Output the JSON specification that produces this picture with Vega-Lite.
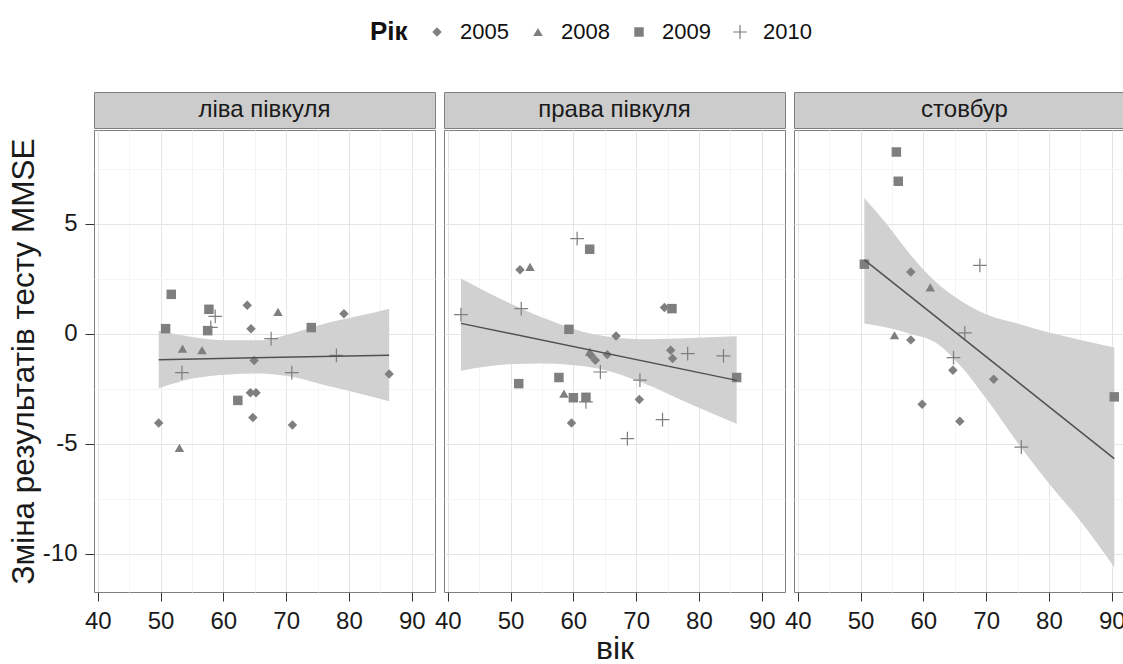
{
  "$schema": "https://vega.github.io/schema/vega-lite/v6.json",
  "padding": {"left": 7, "top": 21, "right": 0, "bottom": 0},
  "background": "white",
  "config": {"font": "Liberation Sans"},
  "datasets": {
    "strips": [{"panel": "ліва півкуля"}, {"panel": "права півкуля"}, {"panel": "стовбур"}],
    "pts": [
      {"panel": "ліва півкуля", "year": "2009", "age": 51.7, "change": 1.8},
      {"panel": "ліва півкуля", "year": "2009", "age": 50.8, "change": 0.24},
      {"panel": "ліва півкуля", "year": "2009", "age": 57.7, "change": 1.12},
      {"panel": "ліва півкуля", "year": "2009", "age": 57.5, "change": 0.15},
      {"panel": "ліва півкуля", "year": "2009", "age": 62.3, "change": -3.02},
      {"panel": "ліва півкуля", "year": "2009", "age": 74.0, "change": 0.29},
      {"panel": "ліва півкуля", "year": "2008", "age": 53.5, "change": -0.67},
      {"panel": "ліва півкуля", "year": "2008", "age": 56.6, "change": -0.74},
      {"panel": "ліва півкуля", "year": "2008", "age": 68.7, "change": 1.0},
      {"panel": "ліва півкуля", "year": "2008", "age": 53.0, "change": -5.18},
      {"panel": "ліва півкуля", "year": "2005", "age": 63.8, "change": 1.3},
      {"panel": "ліва півкуля", "year": "2005", "age": 64.4, "change": 0.24},
      {"panel": "ліва півкуля", "year": "2005", "age": 64.9, "change": -1.21},
      {"panel": "ліва півкуля", "year": "2005", "age": 64.3, "change": -2.67},
      {"panel": "ліва півкуля", "year": "2005", "age": 65.2, "change": -2.67},
      {"panel": "ліва півкуля", "year": "2005", "age": 64.7, "change": -3.8},
      {"panel": "ліва півкуля", "year": "2005", "age": 49.7, "change": -4.05},
      {"panel": "ліва півкуля", "year": "2005", "age": 71.0, "change": -4.14},
      {"panel": "ліва півкуля", "year": "2005", "age": 79.2, "change": 0.92},
      {"panel": "ліва півкуля", "year": "2005", "age": 86.4, "change": -1.82},
      {"panel": "ліва півкуля", "year": "2010", "age": 53.4, "change": -1.76},
      {"panel": "ліва півкуля", "year": "2010", "age": 67.6, "change": -0.21},
      {"panel": "ліва півкуля", "year": "2010", "age": 70.9, "change": -1.76},
      {"panel": "ліва півкуля", "year": "2010", "age": 78.0, "change": -0.97},
      {"panel": "ліва півкуля", "year": "2010", "age": 58.7, "change": 0.8},
      {"panel": "ліва півкуля", "year": "2010", "age": 58.0, "change": 0.3},
      {"panel": "права півкуля", "year": "2010", "age": 42.1, "change": 0.88},
      {"panel": "права півкуля", "year": "2010", "age": 51.7, "change": 1.15},
      {"panel": "права півкуля", "year": "2010", "age": 60.6, "change": 4.33},
      {"panel": "права півкуля", "year": "2010", "age": 62.0, "change": -3.09},
      {"panel": "права півкуля", "year": "2010", "age": 64.3, "change": -1.73},
      {"panel": "права півкуля", "year": "2010", "age": 70.6, "change": -2.1},
      {"panel": "права півкуля", "year": "2010", "age": 68.6, "change": -4.76},
      {"panel": "права півкуля", "year": "2010", "age": 74.2, "change": -3.89},
      {"panel": "права півкуля", "year": "2010", "age": 78.2, "change": -0.89},
      {"panel": "права півкуля", "year": "2010", "age": 83.9, "change": -1.0},
      {"panel": "права півкуля", "year": "2005", "age": 51.5, "change": 2.92},
      {"panel": "права півкуля", "year": "2005", "age": 66.8, "change": -0.09},
      {"panel": "права півкуля", "year": "2005", "age": 59.7, "change": -4.05},
      {"panel": "права півкуля", "year": "2005", "age": 62.8, "change": -0.97},
      {"panel": "права півкуля", "year": "2005", "age": 63.5, "change": -1.2},
      {"panel": "права півкуля", "year": "2005", "age": 65.4, "change": -0.94},
      {"panel": "права півкуля", "year": "2005", "age": 70.5, "change": -2.98},
      {"panel": "права півкуля", "year": "2005", "age": 74.5, "change": 1.2},
      {"panel": "права півкуля", "year": "2005", "age": 75.5, "change": -0.74},
      {"panel": "права півкуля", "year": "2005", "age": 75.8, "change": -1.12},
      {"panel": "права півкуля", "year": "2008", "age": 53.1, "change": 3.05},
      {"panel": "права півкуля", "year": "2008", "age": 58.5, "change": -2.71},
      {"panel": "права півкуля", "year": "2008", "age": 62.6, "change": -0.8},
      {"panel": "права півкуля", "year": "2009", "age": 62.6, "change": 3.85},
      {"panel": "права півкуля", "year": "2009", "age": 59.3, "change": 0.21},
      {"panel": "права півкуля", "year": "2009", "age": 51.3, "change": -2.26},
      {"panel": "права півкуля", "year": "2009", "age": 57.7, "change": -1.98},
      {"panel": "права півкуля", "year": "2009", "age": 60.0, "change": -2.9},
      {"panel": "права півкуля", "year": "2009", "age": 62.0, "change": -2.88},
      {"panel": "права півкуля", "year": "2009", "age": 75.7, "change": 1.15},
      {"panel": "права півкуля", "year": "2009", "age": 86.0, "change": -1.98},
      {"panel": "стовбур", "year": "2009", "age": 55.7, "change": 8.27},
      {"panel": "стовбур", "year": "2009", "age": 56.0, "change": 6.94},
      {"panel": "стовбур", "year": "2009", "age": 50.6, "change": 3.17},
      {"panel": "стовбур", "year": "2009", "age": 90.4, "change": -2.86},
      {"panel": "стовбур", "year": "2005", "age": 58.0, "change": 2.82},
      {"panel": "стовбур", "year": "2005", "age": 58.0, "change": -0.27},
      {"panel": "стовбур", "year": "2005", "age": 64.7, "change": -1.65},
      {"panel": "стовбур", "year": "2005", "age": 71.2, "change": -2.06},
      {"panel": "стовбур", "year": "2005", "age": 59.8, "change": -3.2},
      {"panel": "стовбур", "year": "2005", "age": 65.8, "change": -3.97},
      {"panel": "стовбур", "year": "2008", "age": 61.1, "change": 2.12},
      {"panel": "стовбур", "year": "2008", "age": 55.4, "change": -0.06},
      {"panel": "стовбур", "year": "2010", "age": 69.0, "change": 3.12},
      {"panel": "стовбур", "year": "2010", "age": 66.6, "change": 0.05},
      {"panel": "стовбур", "year": "2010", "age": 64.8, "change": -1.08},
      {"panel": "стовбур", "year": "2010", "age": 75.6, "change": -5.14}
    ],
    "band": [
      {"panel": "ліва півкуля", "age": 49.7, "lo": -2.48, "hi": 0.14},
      {"panel": "ліва півкуля", "age": 55.0, "lo": -2.03, "hi": -0.14},
      {"panel": "ліва півкуля", "age": 60.3, "lo": -1.85, "hi": -0.29},
      {"panel": "ліва півкуля", "age": 65.6, "lo": -1.8, "hi": -0.29},
      {"panel": "ліва півкуля", "age": 70.9, "lo": -1.95, "hi": 0.02},
      {"panel": "ліва півкуля", "age": 76.2, "lo": -2.33, "hi": 0.47},
      {"panel": "ліва півкуля", "age": 81.3, "lo": -2.68, "hi": 0.8},
      {"panel": "ліва півкуля", "age": 86.4, "lo": -3.06, "hi": 1.15},
      {"panel": "права півкуля", "age": 42.1, "lo": -1.67, "hi": 2.52},
      {"panel": "права півкуля", "age": 49.7, "lo": -1.38, "hi": 1.42},
      {"panel": "права півкуля", "age": 55.0, "lo": -1.34, "hi": 0.76},
      {"panel": "права півкуля", "age": 63.5, "lo": -1.55, "hi": -0.03},
      {"panel": "права півкуля", "age": 70.9, "lo": -2.21, "hi": -0.24},
      {"panel": "права півкуля", "age": 78.8, "lo": -3.21, "hi": -0.18},
      {"panel": "права півкуля", "age": 86.0, "lo": -4.08, "hi": -0.11},
      {"panel": "стовбур", "age": 50.6, "lo": 0.48, "hi": 6.18},
      {"panel": "стовбур", "age": 54.0, "lo": 0.3, "hi": 5.05},
      {"panel": "стовбур", "age": 58.0, "lo": 0.0, "hi": 3.58},
      {"panel": "стовбур", "age": 62.0, "lo": -0.4, "hi": 2.36},
      {"panel": "стовбур", "age": 66.0, "lo": -1.48, "hi": 1.5},
      {"panel": "стовбур", "age": 70.0, "lo": -2.94, "hi": 0.9},
      {"panel": "стовбур", "age": 75.0, "lo": -4.95, "hi": 0.47},
      {"panel": "стовбур", "age": 80.0, "lo": -6.8, "hi": 0.06},
      {"panel": "стовбур", "age": 85.0, "lo": -8.5, "hi": -0.27},
      {"panel": "стовбур", "age": 90.4, "lo": -10.6, "hi": -0.62}
    ],
    "fit": [
      {"panel": "ліва півкуля", "age": 49.7, "fit": -1.17},
      {"panel": "ліва півкуля", "age": 86.4, "fit": -0.97},
      {"panel": "права півкуля", "age": 42.1, "fit": 0.48},
      {"panel": "права півкуля", "age": 86.0, "fit": -2.11},
      {"panel": "стовбур", "age": 50.6, "fit": 3.37},
      {"panel": "стовбур", "age": 90.4, "fit": -5.67}
    ]
  },
  "spacing": -3,
  "hconcat": [
    {
      "spacing": 0,
      "vconcat": [
        {
          "width": 341, "height": 36,
          "view": {"fill": "#cccccc", "stroke": "#7f7f7f"},
          "data": {"name": "strips"},
          "transform": [{"filter": "datum.panel === 'ліва півкуля'"}],
          "mark": {"type": "text", "fontSize": 24, "color": "#1a1a1a", "baseline": "middle", "align": "center"},
          "encoding": {"text": {"field": "panel"}}
        },
        {
          "width": 341, "height": 462,
          "view": {"fill": "white", "stroke": "#7f7f7f"},
          "encoding": {
            "x": {"field": "age", "type": "quantitative",
              "scale": {"domain": [39.4, 93.7], "nice": false, "zero": false},
              "axis": {"values": [40, 45, 50, 55, 60, 65, 70, 75, 80, 85, 90], "title": null, "domain": false,
                "labelExpr": "datum.value % 10 === 0 ? datum.label : ''", "labelFontSize": 24, "labelColor": "#1a1a1a",
                "labelPadding": 8, "labelFlush": false, "labelOverlap": false, "tickSize": 9, "tickColor": "#333333",
                "tickOpacity": {"condition": {"test": "datum.value % 10 === 0", "value": 1}, "value": 0},
                "gridColor": {"condition": {"test": "datum.value % 10 === 0", "value": "#e5e5e5"}, "value": "#f5f5f5"}}}
          },
          "layer": [
            {
              "data": {"name": "band"},
              "transform": [{"filter": "datum.panel === 'ліва півкуля'"}],
              "mark": {"type": "area", "color": "#d1d1d1", "opacity": 1, "interpolate": "monotone"},
              "encoding": {
                "y": {"field": "lo", "type": "quantitative",
                  "scale": {"domain": [-11.73, 9.27], "nice": false, "zero": false},
                  "axis": {"values": [-10, -7.5, -5, -2.5, 0, 2.5, 5, 7.5], "title": "Зміна результатів тесту MMSE",
                    "titleFontSize": 31.5, "titleFontWeight": "normal", "titleColor": "#1a1a1a", "titlePadding": 2, "domain": false,
                    "labelExpr": "datum.value % 5 === 0 ? replace(datum.label, '−', '-') : ''", "labelFontSize": 24, "labelColor": "#1a1a1a",
                    "labelPadding": 8, "tickSize": 9, "tickColor": "#333333", "labelOverlap": false,
                    "tickOpacity": {"condition": {"test": "datum.value % 5 === 0", "value": 1}, "value": 0},
                    "gridColor": {"condition": {"test": "datum.value % 5 === 0", "value": "#e5e5e5"}, "value": "#f5f5f5"}}},
                "y2": {"field": "hi"}
              }
            },
            {
              "data": {"name": "pts"},
              "transform": [{"filter": "datum.panel === 'ліва півкуля'"}],
              "mark": {"type": "point", "filled": true, "color": "#7f7f7f", "opacity": 1, "size": 90},
              "encoding": {
                "y": {"field": "change", "type": "quantitative", "scale": {"domain": [-11.73, 9.27], "nice": false, "zero": false},
                  "axis": {"values": [-10, -7.5, -5, -2.5, 0, 2.5, 5, 7.5], "title": "Зміна результатів тесту MMSE",
                    "titleFontSize": 31.5, "titleFontWeight": "normal", "titleColor": "#1a1a1a", "titlePadding": 2, "domain": false,
                    "labelExpr": "datum.value % 5 === 0 ? replace(datum.label, '−', '-') : ''", "labelFontSize": 24, "labelColor": "#1a1a1a",
                    "labelPadding": 8, "tickSize": 9, "tickColor": "#333333", "labelOverlap": false,
                    "tickOpacity": {"condition": {"test": "datum.value % 5 === 0", "value": 1}, "value": 0},
                    "gridColor": {"condition": {"test": "datum.value % 5 === 0", "value": "#e5e5e5"}, "value": "#f5f5f5"}}},
                "shape": {"field": "year", "type": "nominal",
                  "scale": {"domain": ["2005", "2008", "2009", "2010"], "range": ["diamond", "triangle-up", "square", "M-1.45,-0.13H-0.13V-1.45H0.13V-0.13H1.45V0.13H0.13V1.45H-0.13V0.13H-1.45Z"]},
                  "legend": {"title": "Рік", "orient": "none", "legendX": 276, "legendY": -71, "direction": "horizontal", "columns": 4,
                    "titleOrient": "left", "titleFontSize": 26, "titleFontWeight": "bold", "titleColor": "#111111", "titlePadding": 18,
                    "labelFontSize": 22, "labelColor": "#111111", "labelOffset": 12, "columnPadding": 18,
                    "symbolSize": 90, "symbolFillColor": "#7f7f7f", "symbolOpacity": 1}}
              }
            },
            {
              "data": {"name": "fit"},
              "transform": [{"filter": "datum.panel === 'ліва півкуля'"}],
              "mark": {"type": "line", "color": "#505050", "strokeWidth": 1.5},
              "encoding": {
                "y": {"field": "fit", "type": "quantitative", "scale": {"domain": [-11.73, 9.27], "nice": false, "zero": false},
                  "axis": {"values": [-10, -7.5, -5, -2.5, 0, 2.5, 5, 7.5], "title": "Зміна результатів тесту MMSE",
                    "titleFontSize": 31.5, "titleFontWeight": "normal", "titleColor": "#1a1a1a", "titlePadding": 2, "domain": false,
                    "labelExpr": "datum.value % 5 === 0 ? replace(datum.label, '−', '-') : ''", "labelFontSize": 24, "labelColor": "#1a1a1a",
                    "labelPadding": 8, "tickSize": 9, "tickColor": "#333333", "labelOverlap": false,
                    "tickOpacity": {"condition": {"test": "datum.value % 5 === 0", "value": 1}, "value": 0},
                    "gridColor": {"condition": {"test": "datum.value % 5 === 0", "value": "#e5e5e5"}, "value": "#f5f5f5"}}}
              }
            }
          ]
        }
      ]
    },
    {
      "spacing": 0,
      "vconcat": [
        {
          "width": 341, "height": 36,
          "view": {"fill": "#cccccc", "stroke": "#7f7f7f"},
          "data": {"name": "strips"},
          "transform": [{"filter": "datum.panel === 'права півкуля'"}],
          "mark": {"type": "text", "fontSize": 24, "color": "#1a1a1a", "baseline": "middle", "align": "center"},
          "encoding": {"text": {"field": "panel"}}
        },
        {
          "width": 341, "height": 462,
          "view": {"fill": "white", "stroke": "#7f7f7f"},
          "encoding": {
            "x": {"field": "age", "type": "quantitative",
              "scale": {"domain": [39.4, 93.7], "nice": false, "zero": false},
              "axis": {"values": [40, 45, 50, 55, 60, 65, 70, 75, 80, 85, 90], "title": "вік", "titleFontSize": 32,
                "titleFontWeight": "normal", "titleColor": "#1a1a1a", "titlePadding": 0, "domain": false,
                "labelExpr": "datum.value % 10 === 0 ? datum.label : ''", "labelFontSize": 24, "labelColor": "#1a1a1a",
                "labelPadding": 8, "labelFlush": false, "labelOverlap": false, "tickSize": 9, "tickColor": "#333333",
                "tickOpacity": {"condition": {"test": "datum.value % 10 === 0", "value": 1}, "value": 0},
                "gridColor": {"condition": {"test": "datum.value % 10 === 0", "value": "#e5e5e5"}, "value": "#f5f5f5"}}}
          },
          "layer": [
            {
              "data": {"name": "band"},
              "transform": [{"filter": "datum.panel === 'права півкуля'"}],
              "mark": {"type": "area", "color": "#d1d1d1", "opacity": 1, "interpolate": "monotone"},
              "encoding": {
                "y": {"field": "lo", "type": "quantitative",
                  "scale": {"domain": [-11.73, 9.27], "nice": false, "zero": false},
                  "axis": {"values": [-10, -7.5, -5, -2.5, 0, 2.5, 5, 7.5], "title": null, "domain": false, "labels": false, "ticks": false,
                    "gridColor": {"condition": {"test": "datum.value % 5 === 0", "value": "#e5e5e5"}, "value": "#f5f5f5"}}},
                "y2": {"field": "hi"}
              }
            },
            {
              "data": {"name": "pts"},
              "transform": [{"filter": "datum.panel === 'права півкуля'"}],
              "mark": {"type": "point", "filled": true, "color": "#7f7f7f", "opacity": 1, "size": 90},
              "encoding": {
                "y": {"field": "change", "type": "quantitative", "scale": {"domain": [-11.73, 9.27], "nice": false, "zero": false},
                  "axis": {"values": [-10, -7.5, -5, -2.5, 0, 2.5, 5, 7.5], "title": null, "domain": false, "labels": false, "ticks": false,
                    "gridColor": {"condition": {"test": "datum.value % 5 === 0", "value": "#e5e5e5"}, "value": "#f5f5f5"}}},
                "shape": {"field": "year", "type": "nominal",
                  "scale": {"domain": ["2005", "2008", "2009", "2010"], "range": ["diamond", "triangle-up", "square", "M-1.45,-0.13H-0.13V-1.45H0.13V-0.13H1.45V0.13H0.13V1.45H-0.13V0.13H-1.45Z"]},
                  "legend": {"title": "Рік", "orient": "none", "legendX": 276, "legendY": -71, "direction": "horizontal", "columns": 4,
                    "titleOrient": "left", "titleFontSize": 26, "titleFontWeight": "bold", "titleColor": "#111111", "titlePadding": 18,
                    "labelFontSize": 22, "labelColor": "#111111", "labelOffset": 12, "columnPadding": 18,
                    "symbolSize": 90, "symbolFillColor": "#7f7f7f", "symbolOpacity": 1}}
              }
            },
            {
              "data": {"name": "fit"},
              "transform": [{"filter": "datum.panel === 'права півкуля'"}],
              "mark": {"type": "line", "color": "#505050", "strokeWidth": 1.5},
              "encoding": {
                "y": {"field": "fit", "type": "quantitative", "scale": {"domain": [-11.73, 9.27], "nice": false, "zero": false},
                  "axis": {"values": [-10, -7.5, -5, -2.5, 0, 2.5, 5, 7.5], "title": null, "domain": false, "labels": false, "ticks": false,
                    "gridColor": {"condition": {"test": "datum.value % 5 === 0", "value": "#e5e5e5"}, "value": "#f5f5f5"}}}
              }
            }
          ]
        }
      ]
    },
    {
      "spacing": 0,
      "vconcat": [
        {
          "width": 341, "height": 36,
          "view": {"fill": "#cccccc", "stroke": "#7f7f7f"},
          "data": {"name": "strips"},
          "transform": [{"filter": "datum.panel === 'стовбур'"}],
          "mark": {"type": "text", "fontSize": 24, "color": "#1a1a1a", "baseline": "middle", "align": "center"},
          "encoding": {"text": {"field": "panel"}}
        },
        {
          "width": 341, "height": 462,
          "view": {"fill": "white", "stroke": "#7f7f7f"},
          "encoding": {
            "x": {"field": "age", "type": "quantitative",
              "scale": {"domain": [39.4, 93.7], "nice": false, "zero": false},
              "axis": {"values": [40, 45, 50, 55, 60, 65, 70, 75, 80, 85, 90], "title": null, "domain": false,
                "labelExpr": "datum.value % 10 === 0 ? datum.label : ''", "labelFontSize": 24, "labelColor": "#1a1a1a",
                "labelPadding": 8, "labelFlush": false, "labelOverlap": false, "tickSize": 9, "tickColor": "#333333",
                "tickOpacity": {"condition": {"test": "datum.value % 10 === 0", "value": 1}, "value": 0},
                "gridColor": {"condition": {"test": "datum.value % 10 === 0", "value": "#e5e5e5"}, "value": "#f5f5f5"}}}
          },
          "layer": [
            {
              "data": {"name": "band"},
              "transform": [{"filter": "datum.panel === 'стовбур'"}],
              "mark": {"type": "area", "color": "#d1d1d1", "opacity": 1, "interpolate": "monotone"},
              "encoding": {
                "y": {"field": "lo", "type": "quantitative",
                  "scale": {"domain": [-11.73, 9.27], "nice": false, "zero": false},
                  "axis": {"values": [-10, -7.5, -5, -2.5, 0, 2.5, 5, 7.5], "title": null, "domain": false, "labels": false, "ticks": false,
                    "gridColor": {"condition": {"test": "datum.value % 5 === 0", "value": "#e5e5e5"}, "value": "#f5f5f5"}}},
                "y2": {"field": "hi"}
              }
            },
            {
              "data": {"name": "pts"},
              "transform": [{"filter": "datum.panel === 'стовбур'"}],
              "mark": {"type": "point", "filled": true, "color": "#7f7f7f", "opacity": 1, "size": 90},
              "encoding": {
                "y": {"field": "change", "type": "quantitative", "scale": {"domain": [-11.73, 9.27], "nice": false, "zero": false},
                  "axis": {"values": [-10, -7.5, -5, -2.5, 0, 2.5, 5, 7.5], "title": null, "domain": false, "labels": false, "ticks": false,
                    "gridColor": {"condition": {"test": "datum.value % 5 === 0", "value": "#e5e5e5"}, "value": "#f5f5f5"}}},
                "shape": {"field": "year", "type": "nominal",
                  "scale": {"domain": ["2005", "2008", "2009", "2010"], "range": ["diamond", "triangle-up", "square", "M-1.45,-0.13H-0.13V-1.45H0.13V-0.13H1.45V0.13H0.13V1.45H-0.13V0.13H-1.45Z"]},
                  "legend": {"title": "Рік", "orient": "none", "legendX": 276, "legendY": -71, "direction": "horizontal", "columns": 4,
                    "titleOrient": "left", "titleFontSize": 26, "titleFontWeight": "bold", "titleColor": "#111111", "titlePadding": 18,
                    "labelFontSize": 22, "labelColor": "#111111", "labelOffset": 12, "columnPadding": 18,
                    "symbolSize": 90, "symbolFillColor": "#7f7f7f", "symbolOpacity": 1}}
              }
            },
            {
              "data": {"name": "fit"},
              "transform": [{"filter": "datum.panel === 'стовбур'"}],
              "mark": {"type": "line", "color": "#505050", "strokeWidth": 1.5},
              "encoding": {
                "y": {"field": "fit", "type": "quantitative", "scale": {"domain": [-11.73, 9.27], "nice": false, "zero": false},
                  "axis": {"values": [-10, -7.5, -5, -2.5, 0, 2.5, 5, 7.5], "title": null, "domain": false, "labels": false, "ticks": false,
                    "gridColor": {"condition": {"test": "datum.value % 5 === 0", "value": "#e5e5e5"}, "value": "#f5f5f5"}}}
              }
            }
          ]
        }
      ]
    }
  ]
}
